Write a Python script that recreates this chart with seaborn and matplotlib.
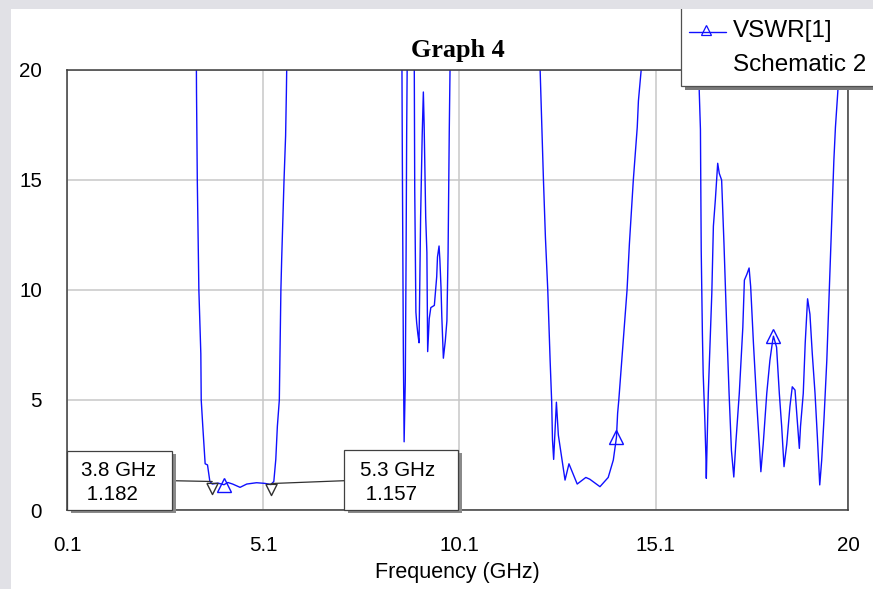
import numpy as np
import pandas as pd
import matplotlib
matplotlib.use("Agg")
import matplotlib.pyplot as plt
from matplotlib.patches import Rectangle
from matplotlib.lines import Line2D
from matplotlib.transforms import Affine2D
import seaborn as sns

# ---------------- data ----------------
band1_freq = [0.10, 3.38, 3.40, 3.42, 3.46, 3.51, 3.52, 3.56, 3.62, 3.68, 3.74, 3.80, 3.95,
              4.10, 4.20, 4.32, 4.51, 4.68, 4.93, 5.14, 5.30, 5.37, 5.42, 5.46, 5.51, 5.55,
              5.57, 5.63, 5.67, 5.69, 5.73]
band1_vswr = [60, 26, 19.0, 15.0, 10.0, 7.1, 5.0, 3.8, 2.1, 2.05, 1.3, 1.182, 1.22,
              1.15, 1.25, 1.18, 1.03, 1.18, 1.24, 1.21, 1.157, 1.3, 2.3, 3.8, 5.0, 10.0,
              11.4, 15.0, 17.0, 19.0, 24.0]

band2_freq = [7.20, 8.63, 8.645, 8.67, 8.69, 8.72, 8.74, 8.755, 8.78, 8.87, 8.945, 8.96,
              8.99, 9.01, 9.04, 9.07, 9.11, 9.15, 9.18, 9.20, 9.24, 9.27, 9.29, 9.33, 9.37,
              9.46, 9.52, 9.54, 9.58, 9.60, 9.63, 9.65, 9.69, 9.74, 9.78, 9.81, 9.84, 9.88]
band2_vswr = [55, 22, 15.8, 7.3, 3.1, 5.9, 11.6, 17.2, 23, 45, 22, 14.6,
              9.0, 8.5, 8.0, 7.6, 13.3, 17.0, 19.0, 17.5, 13.3, 11.7, 7.2, 8.7, 9.2,
              9.3, 10.6, 11.5, 12.0, 11.4, 10.1, 8.8, 6.9, 7.7, 8.6, 11.7, 17.2, 23]

band3_freq = [11.00, 12.13, 12.20, 12.24, 12.29, 12.35, 12.41, 12.45, 12.47, 12.50, 12.57,
              12.62, 12.79, 12.89, 13.10, 13.32, 13.42, 13.68, 13.89, 14.02, 14.10, 14.13,
              14.16, 14.27, 14.37, 14.43, 14.53, 14.63, 14.66, 14.78]
band3_vswr = [55, 21.5, 17.4, 15.0, 12.4, 10.0, 6.8, 4.9, 3.2, 2.3, 4.9,
              3.4, 1.36, 2.1, 1.18, 1.48, 1.40, 1.06, 1.48, 2.27, 3.3, 4.4,
              5.0, 7.6, 10.0, 12.1, 15.0, 17.4, 18.6, 21.0]

band4_freq = [15.40, 16.19, 16.21, 16.24, 16.26, 16.29, 16.31, 16.35, 16.38, 16.39, 16.40,
              16.44, 16.53, 16.57, 16.62, 16.68, 16.72, 16.78, 16.84, 16.91, 16.97, 17.03,
              17.09, 17.14, 17.23, 17.32, 17.36, 17.42, 17.48, 17.52, 17.59, 17.67, 17.74,
              17.78, 17.84, 17.93, 18.01, 18.08, 18.10, 18.18, 18.25, 18.31, 18.37, 18.44,
              18.52, 18.58, 18.65, 18.69, 18.76, 18.79, 18.86, 18.91, 18.97, 19.03, 19.09,
              19.16, 19.22, 19.28, 19.33, 19.39, 19.46, 19.52, 19.58, 19.64, 19.68, 19.74,
              19.80, 20.00]
band4_vswr = [55, 22, 19.0, 17.3, 11.8, 8.0, 6.2, 4.2, 2.4, 1.44, 2.27,
              5.3, 9.85, 12.9, 14.1, 15.76, 15.3, 15.0, 12.1, 8.3, 5.3, 2.7,
              1.5, 3.0, 5.3, 8.3, 10.45, 10.7, 11.0, 10.15, 7.6, 5.0, 3.0,
              1.74, 3.0, 5.3, 6.8, 7.7, 7.9, 7.4, 5.3, 3.8, 1.97, 3.0,
              4.7, 5.6, 5.45, 4.5, 2.8, 3.8, 5.3, 7.6, 9.6, 8.9, 7.1,
              5.3, 3.3, 1.14, 2.27, 4.2, 6.8, 9.85, 12.9, 15.9, 17.4, 19.0,
              21.0, 30]

trace_marker_freqs = [4.10, 14.10, 18.10]      # triangle symbols on the trace
marker_freqs = [3.8, 5.3]                      # measurement markers (GHz)
marker_vswr = [1.182, 1.157]

x_ticks = [0.1, 5.1, 10.1, 15.1, 20]
x_tick_labels = ["0.1", "5.1", "10.1", "15.1", "20"]
y_ticks = [0, 5, 10, 15, 20]
title_text = "Graph 4"
x_label = "Frequency (GHz)"
legend_texts = ["VSWR[1]", "Schematic 2"]

# ---------------- style ----------------
sns.set_style("white")
plt.rcParams["font.family"] = ["Liberation Sans", "DejaVu Sans"]
plt.rcParams["text.color"] = "black"
plt.rcParams["axes.labelcolor"] = "black"

BLUE = "#1010ff"
FRAME = "#3c3c3c"
GRID = "#c8c8c8"
BGGRAY = "#e1e1e6"

W, H = 873, 589
fig = plt.figure(figsize=(W / 100, H / 100), dpi=100)
fig.patch.set_facecolor("white")
# pixel coordinates, origin top-left
PX = Affine2D().scale(1 / W, -1 / H).translate(0, 1) + fig.transFigure

ax = fig.add_axes([67 / W, 1 - 510 / H, 781 / W, 440 / H])

freq_all = band1_freq + band2_freq + band3_freq + band4_freq
vswr_all = band1_vswr + band2_vswr + band3_vswr + band4_vswr
df = pd.DataFrame({"freq": freq_all, "vswr": vswr_all})

sns.lineplot(data=df, x="freq", y="vswr", ax=ax, color=BLUE, lw=1.0,
             estimator=None, sort=False)

sel = df[np.isclose(df["freq"].values[:, None], np.array(trace_marker_freqs)[None, :]).any(axis=1)]
ax.plot(sel["freq"], sel["vswr"], ls="none", marker="^", ms=10, mfc="none",
        mec=BLUE, mew=1.0)

# measurement markers (down triangles whose top edge sits on the point)
vmark = [(-1, 0.2), (1, 0.2), (0, -1.8), (-1, 0.2)]
ax.plot(marker_freqs, marker_vswr, ls="none", marker=vmark, ms=14.5, mfc="none",
        mec="#303030", mew=1.0, zorder=5)

ax.set_xlim(0.1, 20)
ax.set_ylim(0, 20)
ax.set_xticks(x_ticks)
ax.set_xticklabels(x_tick_labels)
ax.set_yticks(y_ticks)
ax.tick_params(axis="both", length=0, labelsize=14.8, labelcolor="black")
ax.tick_params(axis="x", pad=19)
ax.tick_params(axis="y", pad=18)
ax.grid(True, color=GRID, lw=1.1)
ax.set_axisbelow(True)
for s in ax.spines.values():
    s.set_visible(True)
    s.set_color(FRAME)
    s.set_linewidth(1.1)
ax.set_xlabel(x_label, fontsize=15.5, labelpad=5, color="black")
ax.set_ylabel("")
ax.set_title(title_text, fontfamily=["Liberation Serif", "DejaVu Serif"],
             fontweight="bold", fontsize=18.8, pad=9.6, color="black")

fig.canvas.draw()


def to_px(f, v):
    d = ax.transData.transform((f, v))
    return d[0], H - d[1]


# ---------------- marker read-out boxes ----------------
boxes = [(67.3, 450.7, 105.0, 59.3, "left"), (344.3, 450.0, 114.0, 60.0, "right")]
for (bx, by, bw, bh, side), f, v in zip(boxes, marker_freqs, marker_vswr):
    mx, my = to_px(f, v)
    if side == "left":
        lx, ly = [bx + bw, mx], [480.7, my - 2.5]
    else:
        lx, ly = [mx, bx], [my - 1, 480.7]
    fig.add_artist(Line2D(lx, ly, transform=PX, color="#303030", lw=0.9, zorder=1))
    fig.add_artist(Rectangle((bx + 4, by + 3), bw, bh, transform=PX, facecolor="#8a8a8a",
                             edgecolor="none", zorder=2))
    fig.add_artist(Rectangle((bx, by), bw, bh, transform=PX, facecolor="white",
                             edgecolor="#404040", lw=0.9, zorder=3))
    tx = bx + 13.4 if side == "left" else bx + 15.7
    fig.text(tx, 476, f"{f} GHz", transform=PX, ha="left", va="baseline",
             fontsize=14.8, color="black", zorder=4)
    fig.text(tx, 500, f" {v:.3f}", transform=PX, ha="left", va="baseline",
             fontsize=14.8, color="black", zorder=4)

# ---------------- legend box ----------------
fig.add_artist(Rectangle((685, 4), 220, 86, transform=PX, facecolor="#7a7a7a",
                         edgecolor="none", zorder=5))
fig.add_artist(Rectangle((681.3, 0), 220, 86, transform=PX, facecolor="white",
                         edgecolor="#505050", lw=0.9, zorder=6))
fig.add_artist(Line2D([689, 725.7], [31.7, 31.7], transform=PX, color=BLUE, lw=1.0,
                      zorder=7))
fig.add_artist(Line2D([706], [29.8], transform=PX, marker="^", ms=6.5, mfc="none",
                      mec=BLUE, mew=0.9, ls="none", zorder=7))
fig.text(733, 37.3, legend_texts[0], transform=PX, ha="left", va="baseline",
         fontsize=17.5, color="black", zorder=8)
fig.text(733, 70.7, legend_texts[1], transform=PX, ha="left", va="baseline",
         fontsize=17.5, color="black", zorder=8)

# ---------------- grey window frame (top and left) ----------------
fig.add_artist(Rectangle((0, 0), W, 9, transform=PX, facecolor=BGGRAY,
                         edgecolor="none", zorder=20))
fig.add_artist(Rectangle((0, 0), 11, H, transform=PX, facecolor=BGGRAY,
                         edgecolor="none", zorder=20))

fig.savefig("out.png", dpi=100)
